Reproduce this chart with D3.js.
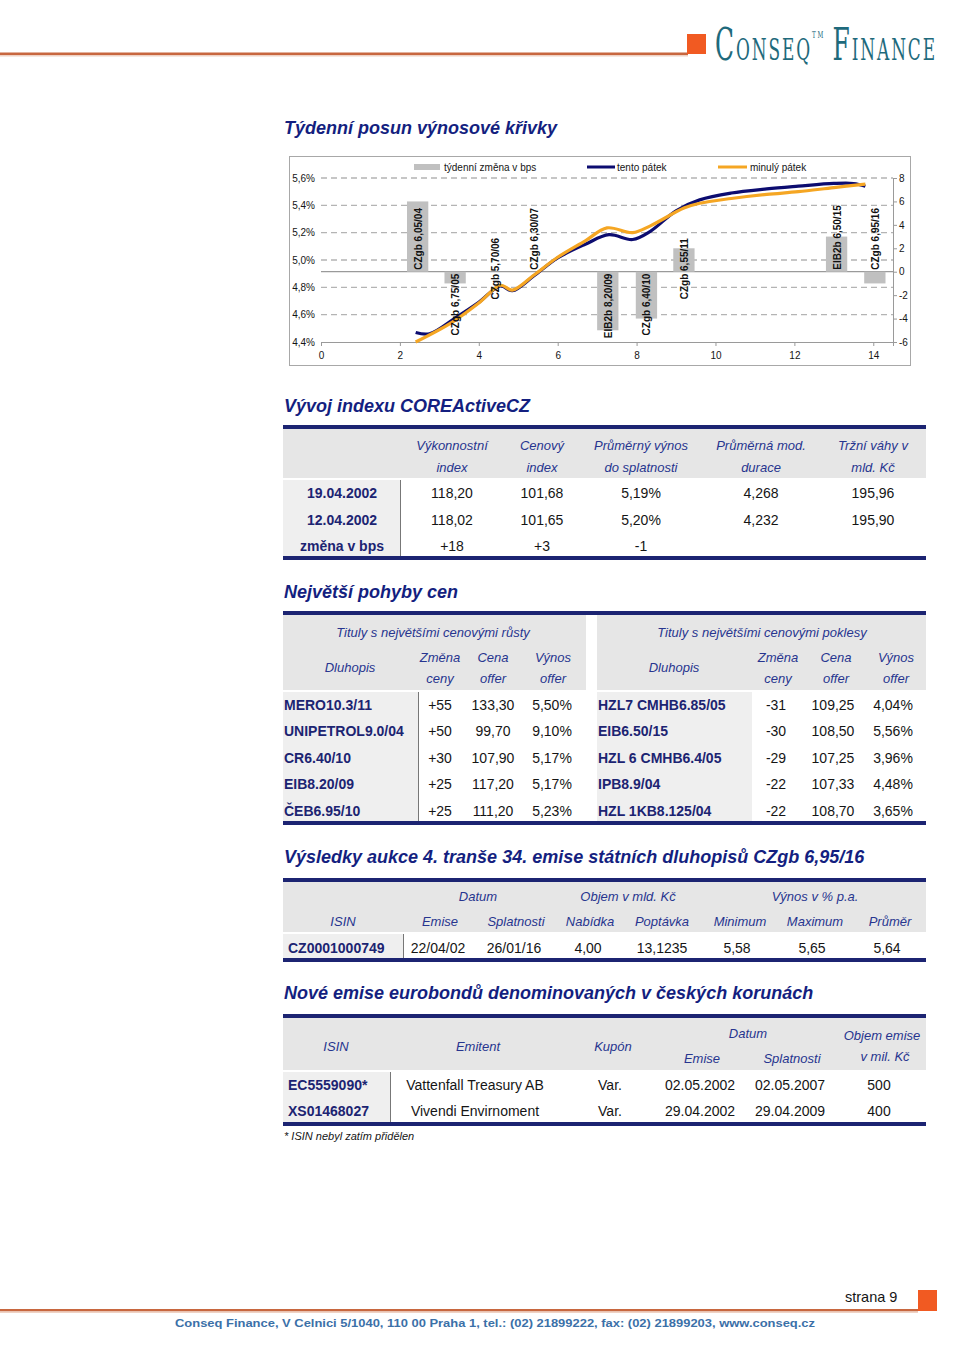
<!DOCTYPE html>
<html><head><meta charset="utf-8">
<script src="https://cdn.jsdelivr.net/npm/d3@7"></script>
<style>
html,body{margin:0;padding:0;background:#fff;}
svg{display:block;font-family:"Liberation Sans",Arial,sans-serif;}
</style></head><body>
<svg id="page" width="960" height="1356"></svg>
<script>
// ================= DATA =================
// Chart: weekly yield-curve shift
const bondNames = ["CZgb 6,05/04","CZgb 6,75/05","CZgb 5,70/06","CZgb 6,30/07","EIB2b 8,20/09","CZgb 6,40/10","CZgb 6,55/11","EIB2b 6,50/15","CZgb 6,95/16"];
const bondMaturity = [2.45,3.4,4.4,5.4,7.27,8.25,9.2,13.07,14.04];
const weeklyChangeBps = [6,-1,0,0,-5,-4,2,3,-1];
const labelPlacement = ["up","down","mid","up","down","down","mid","up","up"];

const thisFridayX = [2.4,2.75,3.4,4.0,4.55,4.85,5.4,6.0,6.7,7.3,7.9,8.35,9.0,9.6,10.4,11.3,12.1,13.0,13.5,13.8];
const thisFridayYield = [4.47,4.46,4.575,4.69,4.81,4.775,4.885,5.015,5.115,5.185,5.15,5.21,5.36,5.44,5.49,5.52,5.54,5.56,5.56,5.54];
const lastFridayX = [2.4,3.3,4.0,4.55,4.85,5.4,6.0,6.7,7.25,7.9,8.35,9.2,9.6,10.4,11.3,12.1,13.0,13.8];
const lastFridayYield = [4.40,4.54,4.685,4.815,4.78,4.89,5.02,5.14,5.235,5.20,5.25,5.38,5.415,5.45,5.48,5.50,5.53,5.555];

const xTicks = [0,2,4,6,8,10,12,14];
const yTicksLeft = [4.4,4.6,4.8,5.0,5.2,5.4,5.6];
const yTicksRight = [-6,-4,-2,0,2,4,6,8];
const legendLabels = ["týdenní změna v bps","tento pátek","minulý pátek"];

// Table 1: index
const idxHeader1 = ["Výkonnostní","Cenový","Průměrný výnos","Průměrná mod.","Tržní váhy v"];
const idxHeader2 = ["index","index","do splatnosti","durace","mld. Kč"];
const idxRowLabels = ["19.04.2002","12.04.2002","změna v bps"];
const idxRows = [
  ["118,20","101,68","5,19%","4,268","195,96"],
  ["118,02","101,65","5,20%","4,232","195,90"],
  ["+18","+3","-1","",""]
];

// Table 2: biggest moves
const upNames = ["MERO10.3/11","UNIPETROL9.0/04","CR6.40/10","EIB8.20/09","ČEB6.95/10"];
const upChange = ["+55","+50","+30","+25","+25"];
const upPrice = ["133,30","99,70","107,90","117,20","111,20"];
const upYield = ["5,50%","9,10%","5,17%","5,17%","5,23%"];
const downNames = ["HZL7 CMHB6.85/05","EIB6.50/15","HZL 6 CMHB6.4/05","IPB8.9/04","HZL 1KB8.125/04"];
const downChange = ["-31","-30","-29","-22","-22"];
const downPrice = ["109,25","108,50","107,25","107,33","108,70"];
const downYield = ["4,04%","5,56%","3,96%","4,48%","3,65%"];

// Table 3: auction
const aucGroupHeaders = ["Datum","Objem v mld. Kč","Výnos v % p.a."];
const aucHeaders = ["ISIN","Emise","Splatnosti","Nabídka","Poptávka","Minimum","Maximum","Průměr"];
const aucRow = ["CZ0001000749","22/04/02","26/01/16","4,00","13,1235","5,58","5,65","5,64"];

// Table 4: eurobonds
const euroRows = [
  ["EC5559090*","Vattenfall Treasury AB","Var.","02.05.2002","02.05.2007","500"],
  ["XS01468027","Vivendi Envirnoment","Var.","29.04.2002","29.04.2009","400"]
];

// ================= STYLE =================
const NAVY = "#1c2472";
const HEAD = "#27358f";
const TXT = "#151515";
const HBG = "#e6e6e6";
const CBG = "#efefef";

const svg = d3.select("#page");

function txt(g, x, y, s, o = {}) {
  return g.append("text").attr("x", x).attr("y", y).text(s)
    .attr("text-anchor", o.anchor || "middle")
    .attr("font-size", o.size || 14)
    .attr("font-style", o.italic ? "italic" : "normal")
    .attr("font-weight", o.bold ? "bold" : "normal")
    .attr("fill", o.color || TXT);
}
function rect(g, x, y, w, h, fill) {
  return g.append("rect").attr("x", x).attr("y", y).attr("width", w).attr("height", h).attr("fill", fill);
}
function title(s, y) { txt(svg, 284, y, s, {anchor:"start", size:18, italic:true, bold:true, color:"#141f80"}); }
function rule(y) { rect(svg, 283, y, 643, 4, NAVY); }

// ================= HEADER / FOOTER =================
rect(svg, 0, 52.5, 688, 2.5, "#c8673f");
rect(svg, 0, 55, 688, 1.5, "#efd2c4");
rect(svg, 687, 34, 19, 20, "#f15a22");

const logo = svg.append("g");
const lt = logo.append("text").attr("x", 0).attr("y", 0)
  .attr("font-family", "'DejaVu Serif Condensed','Liberation Serif',serif")
  .attr("fill", "#1e6a7c").attr("letter-spacing", 3);
lt.append("tspan").attr("font-size", 44).text("C");
lt.append("tspan").attr("font-size", 30).text("ONSEQ");
lt.append("tspan").attr("font-size", 10).attr("dy", -22).text("TM");
lt.append("tspan").attr("font-size", 30).attr("dy", 22).text(" ");
lt.append("tspan").attr("font-size", 44).text("F");
lt.append("tspan").attr("font-size", 30).text("INANCE");
const lb = lt.node().getBBox();
const sx = 222 / lb.width;
logo.attr("transform", `translate(${715 - lb.x * sx},60) scale(${sx},1)`);

rect(svg, 0, 1309, 918, 2.5, "#c8673f");
rect(svg, 0, 1311.5, 918, 1.5, "#efd2c4");
rect(svg, 918, 1290, 19, 21, "#f15a22");
txt(svg, 845, 1302, "strana 9", {anchor:"start", size:14.5});
txt(svg, 495, 1327, "Conseq Finance, V Celnici 5/1040, 110 00 Praha 1, tel.: (02) 21899222, fax: (02) 21899203, www.conseq.cz", {size:11, bold:true, color:"#3b70a8"})
  .attr("textLength", 640).attr("lengthAdjust", "spacingAndGlyphs");

// ================= CHART =================
title("Týdenní posun výnosové křivky", 134);

const ch = svg.append("g");
ch.append("rect").attr("x", 289.5).attr("y", 156.5).attr("width", 621).attr("height", 209)
  .attr("fill", "#fff").attr("stroke", "#a8a8a8").attr("stroke-width", 1);

const x = d3.scaleLinear().domain([0, 14.5]).range([321, 893]);
const yL = d3.scaleLinear().domain([4.4, 5.6]).range([342, 178]);
const yR = d3.scaleLinear().domain([-6, 8]).range([342, 178]);

// gridlines (dashed)
ch.append("g").selectAll("line").data(yTicksLeft.filter(d => d > 4.4)).join("line")
  .attr("x1", x(0)).attr("x2", x(14.5)).attr("y1", d => yL(d)).attr("y2", d => yL(d))
  .attr("stroke", "#b4b4b4").attr("stroke-width", 1.3).attr("stroke-dasharray", "6,4");

// left axis labels
const axL = ch.append("g").attr("transform", `translate(${x(0)},0)`)
  .call(d3.axisLeft(yL).tickValues(yTicksLeft).tickSize(0).tickPadding(6)
    .tickFormat(d => d3.format(".1f")(d).replace(".", ",") + "%"));
axL.select(".domain").remove();
axL.selectAll("text").attr("font-size", 10).attr("font-family", "Liberation Sans, Arial").attr("fill", TXT);

// bottom axis
const axB = ch.append("g").attr("transform", `translate(0,${yL(4.4)})`)
  .call(d3.axisBottom(x).tickValues(xTicks).tickSize(4).tickPadding(6).tickFormat(d3.format("d")));
axB.select(".domain").attr("stroke", "#9a9a9a");
axB.selectAll("line").attr("stroke", "#9a9a9a");
axB.selectAll("text").attr("font-size", 10).attr("font-family", "Liberation Sans, Arial").attr("fill", TXT);

// right axis
const axR = ch.append("g").attr("transform", `translate(${x(14.5)},0)`)
  .call(d3.axisRight(yR).tickValues(yTicksRight).tickSize(4).tickPadding(2).tickFormat(d => String(d)));
axR.select(".domain").attr("stroke", "#9a9a9a");
axR.selectAll("line").attr("stroke", "#9a9a9a");
axR.selectAll("text").attr("font-size", 10).attr("font-family", "Liberation Sans, Arial").attr("fill", TXT);

// zero line
ch.append("line").attr("x1", x(0)).attr("x2", x(14.5)).attr("y1", yR(0)).attr("y2", yR(0))
  .attr("stroke", "#9a9a9a").attr("stroke-width", 1.2);

// bars
const bars = bondNames.map((n, i) => ({name: n, m: bondMaturity[i], v: weeklyChangeBps[i], p: labelPlacement[i]}));
const halfW = (x(0.54) - x(0)) / 2;
ch.append("g").selectAll("rect").data(bars).join("rect")
  .attr("x", d => x(d.m) - halfW).attr("width", halfW * 2)
  .attr("y", d => yR(Math.max(0, d.v))).attr("height", d => Math.abs(yR(d.v) - yR(0)))
  .attr("fill", "#c0c0c0");

// lines
const line = d3.line().x(d => x(d[0])).y(d => yL(d[1])).curve(d3.curveCatmullRom.alpha(0.5));
const thisData = thisFridayX.map((v, i) => [v, thisFridayYield[i]]);
const lastData = lastFridayX.map((v, i) => [v, lastFridayYield[i]]);
ch.append("path").attr("d", line(thisData)).attr("fill", "none").attr("stroke", "#0c0c70").attr("stroke-width", 3.2);
ch.append("path").attr("d", line(lastData)).attr("fill", "none").attr("stroke", "#f5a623").attr("stroke-width", 3.2);

// bar labels
ch.append("g").selectAll("text").data(bars).join("text")
  .attr("transform", d => {
    const y0 = yR(0) + (d.p === "up" ? -2 : d.p === "down" ? 2 : -3);
    return `translate(${x(d.m) + 4},${y0}) rotate(-90)`;
  })
  .attr("text-anchor", d => d.p === "up" ? "start" : d.p === "down" ? "end" : "middle")
  .attr("font-size", 10).attr("font-weight", "bold").attr("fill", "#111")
  .text(d => d.name);

// legend
const lg = ch.append("g");
rect(lg, 414, 164, 26, 6, "#c0c0c0");
txt(lg, 444, 171, legendLabels[0], {anchor:"start", size:10});
lg.append("line").attr("x1", 587).attr("x2", 615).attr("y1", 167).attr("y2", 167).attr("stroke", "#0c0c70").attr("stroke-width", 3);
txt(lg, 617, 171, legendLabels[1], {anchor:"start", size:10});
lg.append("line").attr("x1", 718).attr("x2", 747).attr("y1", 167).attr("y2", 167).attr("stroke", "#f5a623").attr("stroke-width", 3);
txt(lg, 750, 171, legendLabels[2], {anchor:"start", size:10});

// ================= TABLE 1 =================
title("Vývoj indexu COREActiveCZ", 412);
rule(425);
rect(svg, 283, 429, 643, 49, HBG);
const idxCols = [452, 542, 641, 761, 873];
idxHeader1.forEach((h, i) => txt(svg, idxCols[i], 450, h, {size:13, italic:true, color:HEAD}));
idxHeader2.forEach((h, i) => txt(svg, idxCols[i], 472, h, {size:13, italic:true, color:HEAD}));
rect(svg, 283, 480, 117, 76, CBG);
rect(svg, 400, 480, 1, 76, "#777");
const idxRowY = [498, 525, 551];
idxRowLabels.forEach((r, j) => {
  txt(svg, 342, idxRowY[j], r, {bold:true, color:NAVY});
  idxRows[j].forEach((v, i) => txt(svg, idxCols[i], idxRowY[j], v));
});
rule(556);

// ================= TABLE 2 =================
title("Největší pohyby cen", 598);
rule(611);
rect(svg, 283, 615, 303, 75, HBG);
rect(svg, 597, 615, 329, 75, HBG);
function moveHeader(cx, titleTxt, cols) {
  txt(svg, cx, 637, titleTxt, {size:13, italic:true, color:HEAD});
  txt(svg, cols[0], 672, "Dluhopis", {size:13, italic:true, color:HEAD});
  [["Změna","ceny"],["Cena","offer"],["Výnos","offer"]].forEach((p, i) => {
    txt(svg, cols[i + 1], 662, p[0], {size:13, italic:true, color:HEAD});
    txt(svg, cols[i + 1], 683, p[1], {size:13, italic:true, color:HEAD});
  });
}
moveHeader(433, "Tituly s největšími cenovými růsty", [350, 440, 493, 553]);
moveHeader(762, "Tituly s největšími cenovými poklesy", [674, 778, 836, 896]);
rect(svg, 283, 692, 135, 129, CBG);
rect(svg, 418, 692, 1, 129, "#777");
rect(svg, 597, 692, 155, 129, CBG);
const mvY = [710, 736, 763, 789, 816];
upNames.forEach((n, j) => {
  txt(svg, 284, mvY[j], n, {anchor:"start", bold:true, color:NAVY});
  txt(svg, 440, mvY[j], upChange[j]);
  txt(svg, 493, mvY[j], upPrice[j]);
  txt(svg, 552, mvY[j], upYield[j]);
});
downNames.forEach((n, j) => {
  txt(svg, 598, mvY[j], n, {anchor:"start", bold:true, color:NAVY});
  txt(svg, 776, mvY[j], downChange[j]);
  txt(svg, 833, mvY[j], downPrice[j]);
  txt(svg, 893, mvY[j], downYield[j]);
});
rule(821);

// ================= TABLE 3 =================
title("Výsledky aukce 4. tranše 34. emise státních dluhopisů CZgb 6,95/16", 863);
rule(878);
rect(svg, 283, 882, 643, 50, HBG);
[478, 628, 815].forEach((cx, i) => txt(svg, cx, 901, aucGroupHeaders[i], {size:13, italic:true, color:HEAD}));
const aucCols = [343, 440, 516, 590, 662, 740, 815, 890];
aucHeaders.forEach((h, i) => txt(svg, aucCols[i], 926, h, {size:13, italic:true, color:HEAD}));
rect(svg, 283, 934, 120, 24, CBG);
rect(svg, 403, 934, 1, 24, "#777");
const aucValCols = [288, 438, 514, 588, 662, 737, 812, 887];
aucRow.forEach((v, i) => {
  if (i === 0) txt(svg, aucValCols[i], 953, v, {anchor:"start", bold:true, color:NAVY});
  else txt(svg, aucValCols[i], 953, v);
});
rule(958);

// ================= TABLE 4 =================
title("Nové emise eurobondů denominovaných v českých korunách", 999);
rule(1014);
rect(svg, 283, 1018, 643, 52, HBG);
const H = {size:13, italic:true, color:HEAD};
txt(svg, 336, 1051, "ISIN", H);
txt(svg, 478, 1051, "Emitent", H);
txt(svg, 613, 1051, "Kupón", H);
txt(svg, 748, 1038, "Datum", H);
txt(svg, 702, 1063, "Emise", H);
txt(svg, 792, 1063, "Splatnosti", H);
txt(svg, 882, 1040, "Objem emise", H);
txt(svg, 885, 1061, "v mil. Kč", H);
rect(svg, 283, 1072, 107, 50, CBG);
rect(svg, 390, 1072, 1, 50, "#777");
const euroCols = [288, 475, 610, 700, 790, 879];
const euroY = [1090, 1116];
euroRows.forEach((r, j) => r.forEach((v, i) => {
  if (i === 0) txt(svg, euroCols[i], euroY[j], v, {anchor:"start", bold:true, color:NAVY});
  else txt(svg, euroCols[i], euroY[j], v);
}));
rule(1122);
txt(svg, 284, 1140, "* ISIN nebyl zatím přidělen", {anchor:"start", size:11, italic:true});
</script>
</body></html>
